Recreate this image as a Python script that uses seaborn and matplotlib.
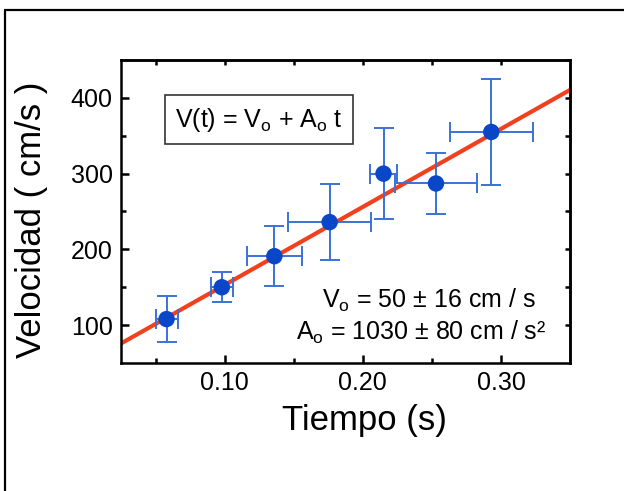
import numpy as np
import pandas as pd
import matplotlib
matplotlib.use("Agg")
import matplotlib.pyplot as plt
from matplotlib.lines import Line2D
import seaborn as sns

# Data
tiempo = [0.058, 0.098, 0.136, 0.176, 0.215, 0.253, 0.293]
velocidad = [108, 150, 191, 236, 300, 287, 355]
err_t = [0.008, 0.008, 0.02, 0.03, 0.01, 0.03, 0.03]
err_v = [30, 20, 40, 50, 60, 40, 70]
V0 = 50
A0 = 1030
fit_t = [0.025, 0.35]
xticks_major = [0.10, 0.20, 0.30]
xtick_labels = ["0.10", "0.20", "0.30"]
yticks_major = [100, 200, 300, 400]

sns.set_theme(style="ticks")
plt.rcParams['font.family'] = ['Liberation Sans', 'DejaVu Sans']
plt.rcParams['mathtext.fontset'] = 'custom'
plt.rcParams['mathtext.rm'] = 'Liberation Sans'
plt.rcParams['mathtext.it'] = 'Liberation Sans:italic'
plt.rcParams['text.color'] = 'black'
plt.rcParams['axes.labelcolor'] = 'black'
plt.rcParams['xtick.color'] = 'black'
plt.rcParams['ytick.color'] = 'black'

df = pd.DataFrame({"t": tiempo, "v": velocidad})
fit = pd.DataFrame({"t": fit_t, "v": [V0 + A0 * t for t in fit_t]})

fig = plt.figure(figsize=(6.24, 4.91), dpi=100)
ax = fig.add_axes([0.1939, 0.2607, 0.7196, 0.6171])

sns.lineplot(data=fit, x="t", y="v", ax=ax, color="#f0401e", lw=3.0, zorder=2)
ax.errorbar(tiempo, velocidad, xerr=err_t, yerr=err_v, fmt="none",
            ecolor="#3a72d8", elinewidth=1.4, capsize=7, capthick=1.4, zorder=3)
sns.scatterplot(data=df, x="t", y="v", ax=ax, color="#0a46c8", s=140,
                edgecolor="none", zorder=4)

ax.set_xlim(0.025, 0.35)
ax.set_ylim(50, 450)
ax.set_xticks(xticks_major)
ax.set_xticklabels(xtick_labels)
ax.set_xticks([0.05, 0.15, 0.25], minor=True)
ax.set_yticks(yticks_major)
ax.set_yticks([150, 250, 350], minor=True)
ax.tick_params(which="major", direction="in", length=6, width=1.8,
               labelsize=18, pad=6, colors="black")
ax.tick_params(which="minor", direction="in", length=3.5, width=1.8)

secx = ax.secondary_xaxis("top")
secx.set_xticks(np.arange(0.05, 0.31, 0.05))
secx.tick_params(direction="in", length=3.5, width=1.8, labeltop=False)
secy = ax.secondary_yaxis("right")
secy.set_yticks(np.arange(100, 451, 50))
secy.tick_params(direction="in", length=3.5, width=1.8, labelright=False)
for s in list(ax.spines.values()) + list(secx.spines.values()) + list(secy.spines.values()):
    s.set_linewidth(1.8)
    s.set_color("black")

ax.set_xlabel("Tiempo (s)", fontsize=25, color="black")
ax.set_ylabel("Velocidad ( cm/s )", fontsize=25, color="black")
ax.xaxis.set_label_coords(0.543, -0.135)
ax.yaxis.set_label_coords(-0.163, 0.472)

ax.text(0.307, 0.802, r"V(t) = V$_\mathrm{o}$ + A$_\mathrm{o}$ t", transform=ax.transAxes,
        fontsize=18, ha="center", va="center", color="black",
        bbox=dict(boxstyle="square,pad=0.42", fc="white", ec="#333333", lw=1.2))
ax.text(0.686, 0.1815, r"V$_\mathrm{o}$ = 50 ± 16 cm / s", transform=ax.transAxes,
        fontsize=18, ha="center", va="baseline", color="black")
ax.text(0.668, 0.076, r"A$_\mathrm{o}$ = 1030 ± 80 cm / s²", transform=ax.transAxes,
        fontsize=18, ha="center", va="baseline", color="black")

# partial outer frame
fig.add_artist(Line2D([5/624, 1.0], [1 - 10/491, 1 - 10/491], transform=fig.transFigure,
                      color="black", lw=1.6))
fig.add_artist(Line2D([5/624, 5/624], [0.0, 1 - 10/491], transform=fig.transFigure,
                      color="black", lw=1.6))

fig.savefig("out.png", dpi=100)
